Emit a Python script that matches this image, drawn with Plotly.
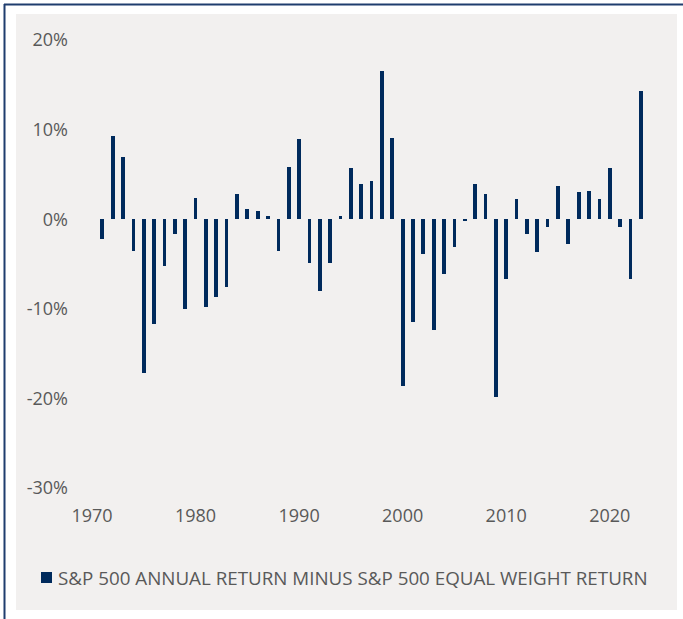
import plotly.graph_objects as go

years = list(range(1971, 2024))
diff_pct = [
    -2.2, 9.3, 6.9, -3.5, -17.2, -11.7, -5.2, -1.7, -10.0, 2.4,
    -9.8, -8.7, -7.6, 2.8, 1.1, 0.9, 0.4, -3.5, 5.8, 8.9,
    -4.9, -8.0, -4.9, 0.4, 5.7, 3.9, 4.3, 16.5, 9.1, -18.6,
    -11.5, -3.9, -12.4, -6.1, -3.1, -0.2, 3.9, 2.8, -19.8, -6.7,
    2.2, -1.7, -3.7, -0.9, 3.7, -2.8, 3.0, 3.2, 2.2, 5.7,
    -0.9, -6.7, 14.3,
]
series_name = "S&P 500 ANNUAL RETURN MINUS S&P 500 EQUAL WEIGHT RETURN"
x_ticks = [1970, 1980, 1990, 2000, 2010, 2020]
y_ticks = [20, 10, 0, -10, -20, -30]
y_tick_text = [f"{v}%" for v in y_ticks]

W, H = 683, 619
ML, MR, MT, MB = 72, 22, 40, 131
PW, PH = W - ML - MR, H - MT - MB


def px(xp):
    return (xp - ML) / PW


def py(yp):
    return (H - MB - yp) / PH


navy = "#002a5c"
border = "#1f3d6e"
text_col = "#595959"
font_family = "Open Sans, Noto Sans, sans-serif"

fig = go.Figure()
fig.add_trace(go.Bar(
    x=years, y=diff_pct, name=series_name,
    marker=dict(color=navy, line=dict(width=0)),
    width=0.36, showlegend=False,
))

shapes = [
    # grey panel
    dict(type="rect", xref="paper", yref="paper", layer="below",
         x0=px(16), x1=px(677), y0=py(610), y1=py(14),
         fillcolor="#f2f0ef", line=dict(width=0)),
    # top border
    dict(type="line", xref="paper", yref="paper",
         x0=px(4), x1=px(683), y0=py(4.5), y1=py(4.5),
         line=dict(color=border, width=2)),
    # left border
    dict(type="line", xref="paper", yref="paper",
         x0=px(4.5), x1=px(4.5), y0=py(4), y1=py(619),
         line=dict(color=border, width=2)),
    # legend swatch
    dict(type="rect", xref="paper", yref="paper",
         x0=px(41), x1=px(52), y0=py(583), y1=py(572),
         fillcolor=navy, line=dict(width=0)),
]

annotations = [
    dict(text=series_name, xref="paper", yref="paper",
         x=px(56), y=py(577.5), xanchor="left", yanchor="middle",
         showarrow=False, font=dict(size=18.8, color=text_col, family=font_family)),
]

fig.update_layout(
    width=W, height=H,
    margin=dict(l=ML, r=MR, t=MT, b=MB, pad=0, autoexpand=False),
    paper_bgcolor="white",
    plot_bgcolor="rgba(0,0,0,0)",
    font=dict(family=font_family, size=18, color=text_col),
    shapes=shapes,
    annotations=annotations,
    showlegend=False,
    bargap=0,
)
fig.update_xaxes(
    range=[1968.07, 2024.95], tickvals=x_ticks, ticktext=[str(v) for v in x_ticks],
    showgrid=False, zeroline=False, showline=False, ticks="",
    ticklabelstandoff=15,
)
fig.update_yaxes(
    range=[-30, 20], tickvals=y_ticks, ticktext=y_tick_text,
    showgrid=False, zeroline=False, showline=False, ticks="",
    ticklabelstandoff=3,
)

fig.write_html(
    "out.html",
    config={"displayModeBar": False},
    post_script="document.body.style.margin='0';document.body.style.padding='0';",
)
